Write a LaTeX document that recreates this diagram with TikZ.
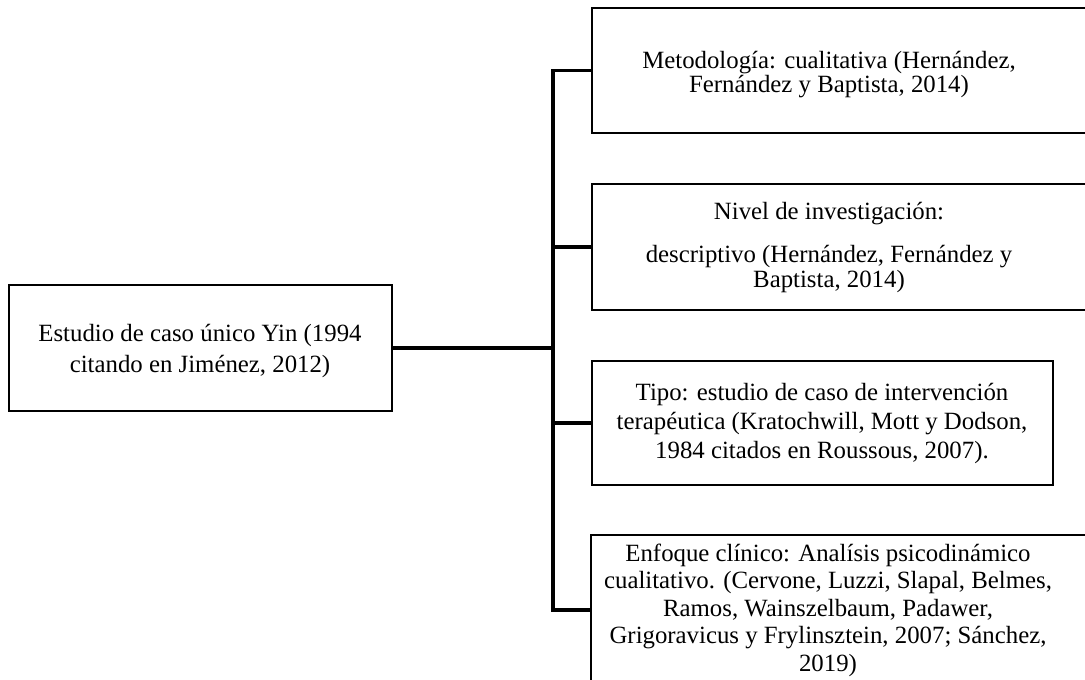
\documentclass[tikz,border=0pt]{standalone}
\usepackage{fontspec}
\setmainfont{Liberation Serif}
\usetikzlibrary{positioning, calc}

\begin{document}
\begin{tikzpicture}[
    x=0.017cm, y=-0.017cm,
    frame/.style 2 args={
        rectangle,
        draw=black,
        line width=1.1pt,
        minimum width=#1*0.017cm,
        minimum height=#2*0.017cm,
        inner sep=0pt
    },
    boxtext/.style={
        align=center,
        inner sep=0pt,
        font=\fontsize{12pt}{#1}\selectfont
    },
    conn/.style={
        line width=1.6pt,
        black
    }
]

% Page size (in px of the layout)
\useasboundingbox (0,0) rectangle (1085,679);
\clip (0,0) rectangle (1085,679);

% Column positions
\def\colL{200}   % main box column
\def\colR{829}   % text column on the right
\def\busx{553}   % vertical bus

% Main box on the left
\node[frame={383}{126}] (estudio) at (200.5,348) {};
\node[boxtext=15pt] (estudio-txt) at (\colL,351) {Estudio de caso único Yin (1994\\citando en Jiménez, 2012)};

% Boxes on the right (some run past the page edge)
\node[frame={508}{125}] (met) at (846,70.5) {};
\node[frame={508}{126}] (niv) at (846,247) {};
\node[frame={461}{124}] (tipo) at (822.5,423) {};
\node[frame={509}{150}] (enf) at (845.5,610) {};

% Texts of the right boxes
\node[boxtext=11.6pt] (met-txt) at (\colR,75) {Metodología: cualitativa (Hernández,\\Fernández y Baptista, 2014)};
\node[boxtext=12.1pt] (niv-txt) at (\colR,247.5) {Nivel de investigación:\\[9pt]descriptivo (Hernández, Fernández y\\Baptista, 2014)};
\node[boxtext=13.8pt] (tipo-txt) at (822,423.5) {Tipo: estudio de caso de intervención\\terapéutica (Kratochwill, Mott y Dodson,\\1984 citados en Roussous, 2007).};
\node[boxtext=13.3pt] (enf-txt) at (828,610) {Enfoque clínico: Analísis psicodinámico\\cualitativo. (Cervone, Luzzi, Slapal, Belmes,\\Ramos, Wainszelbaum, Padawer,\\Grigoravicus y Frylinsztein, 2007; Sánchez,\\2019)};

% Connectors through the bus
\coordinate (bus) at (\busx,348);
\draw[conn] (estudio.east) -- (bus);
\draw[conn] (met.west) -| (bus) |- (enf.west);
\foreach \b in {niv,tipo} {
    \draw[conn] (bus |- \b.west) -- (\b.west);
}

\end{tikzpicture}
\end{document}
